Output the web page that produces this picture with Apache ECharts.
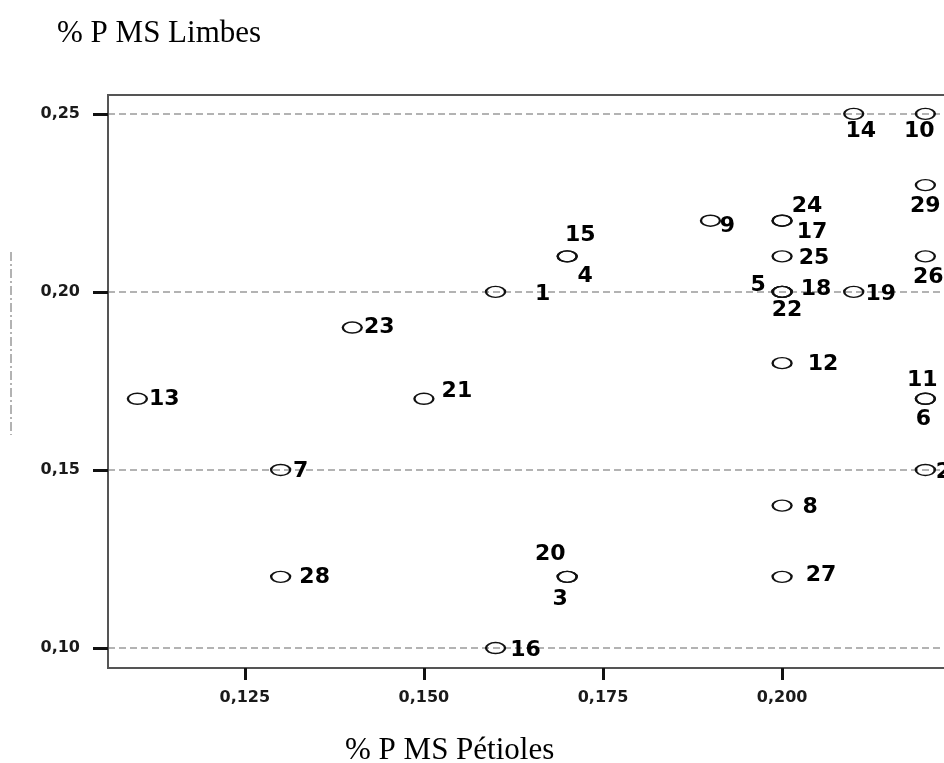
<!DOCTYPE html>
<html>
<head>
<meta charset="utf-8">
<script src="https://cdn.jsdelivr.net/npm/echarts@6/dist/echarts.min.js"></script>
<style>
  html, body { margin: 0; padding: 0; background: #fff; overflow: hidden; width: 944px; height: 763px; }
  #chart { width: 1000px; height: 763px; }
</style>
</head>
<body>
<div id="chart"></div>
<script>
// ---- data ----
const ids      = [1, 2, 3, 4, 5, 6, 7, 8, 9, 10, 11, 12, 13, 14, 15, 16, 17, 18, 19, 20, 21, 22, 23, 24, 25, 26, 27, 28, 29];
const petioles = [0.16, 0.22, 0.17, 0.17, 0.20, 0.22, 0.13, 0.20, 0.19, 0.22, 0.22, 0.20, 0.11, 0.21, 0.17, 0.16, 0.20, 0.20, 0.21, 0.17, 0.15, 0.20, 0.14, 0.20, 0.20, 0.22, 0.20, 0.13, 0.22];
const limbes   = [0.20, 0.15, 0.12, 0.21, 0.20, 0.17, 0.15, 0.14, 0.22, 0.25, 0.17, 0.18, 0.17, 0.25, 0.21, 0.10, 0.22, 0.20, 0.20, 0.12, 0.17, 0.20, 0.19, 0.22, 0.21, 0.21, 0.12, 0.12, 0.23];
const xTicks   = [0.125, 0.150, 0.175, 0.200];
const yTicks   = [0.10, 0.15, 0.20, 0.25];
const xTitle   = '% P MS Pétioles';
const yTitle   = '% P MS Limbes';

// ---- label placement (style only): offset of label centre from its point, px ----
const labelOffsets = {
  1: [47, 2], 2: [18, 2], 3: [-7, 22], 4: [18, 20], 5: [-24, -7], 6: [-2, 21], 7: [20, 1],
  8: [28, 2], 9: [17, 6], 10: [-6, 17], 11: [-3, -18], 12: [41, 1], 13: [27, 1], 14: [7, 17],
  15: [13, -21], 16: [30, 2], 17: [30, 12], 18: [34, -3], 19: [27, 2], 20: [-17, -23],
  21: [33, -7], 22: [5, 18], 23: [27, 0], 24: [25, -14], 25: [32, 2], 26: [3, 21],
  27: [39, -2], 28: [34, 0], 29: [0, 21]
};

const seriesData = ids.map((id, i) => ({
  name: String(id),
  value: [petioles[i], limbes[i]]
}));

const chart = echarts.init(document.getElementById('chart'), null, { renderer: 'canvas' });

const tickFont = { fontFamily: 'DejaVu Sans', fontWeight: 'bold', fontSize: 16, color: '#1a1a1a' };

chart.setOption({
  animation: false,
  backgroundColor: '#ffffff',
  title: [
    { text: yTitle, left: 52, top: 13,
      textStyle: { fontFamily: 'Liberation Serif', fontWeight: 'normal', fontSize: 31, color: '#000' } },
    { text: xTitle, left: 340, top: 730,
      textStyle: { fontFamily: 'Liberation Serif', fontWeight: 'normal', fontSize: 31, color: '#000' } }
  ],
  grid: {
    left: 108, top: 95, width: 889, height: 573,
    show: true, borderColor: '#555', borderWidth: 2, backgroundColor: 'transparent'
  },
  xAxis: {
    type: 'value',
    min: 0.1059, max: 0.2300,
    axisLine: { show: true, lineStyle: { color: '#555', width: 2 } },
    axisTick: { show: true, length: 12, customValues: xTicks, lineStyle: { color: '#111', width: 3 } },
    axisLabel: { show: true, margin: 22, customValues: xTicks, ...tickFont,
      formatter: v => v.toFixed(3).replace('.', ',') },
    splitLine: { show: false }
  },
  yAxis: {
    type: 'value',
    min: 0.0944, max: 0.2553,
    axisLine: { show: true, lineStyle: { color: '#555', width: 2 } },
    axisTick: { show: true, length: 15, customValues: yTicks, lineStyle: { color: '#111', width: 3 } },
    axisLabel: { show: true, margin: 28, customValues: yTicks, ...tickFont,
      formatter: v => v.toFixed(2).replace('.', ',') },
    splitLine: { show: true, lineStyle: { color: '#9a9a9a', width: 1.5, type: [7, 4] } }
  },
  series: [{
    type: 'scatter',
    symbol: 'circle',
    symbolSize: [19, 11],
    itemStyle: { color: 'rgba(255,255,255,0)', borderColor: '#111', borderWidth: 1.8, opacity: 1 },
    label: {
      show: true, position: 'inside', formatter: '{b}',
      align: 'center', verticalAlign: 'middle',
      fontFamily: 'DejaVu Sans', fontWeight: 'bold', fontSize: 22, color: '#000',
      textBorderWidth: 0
    },
    labelLayout: function (params) {
      const off = labelOffsets[ids[params.dataIndex]] || [20, 0];
      return { dx: off[0], dy: off[1], hideOverlap: false };
    },
    emphasis: { disabled: true },
    data: seriesData
  }],
  graphic: [{
    type: 'line',
    shape: { x1: 11, y1: 252, x2: 11, y2: 435 },
    style: { stroke: '#666', lineWidth: 1, lineDash: [9, 3, 2, 3] },
    silent: true
  }]
});
</script>
</body>
</html>
